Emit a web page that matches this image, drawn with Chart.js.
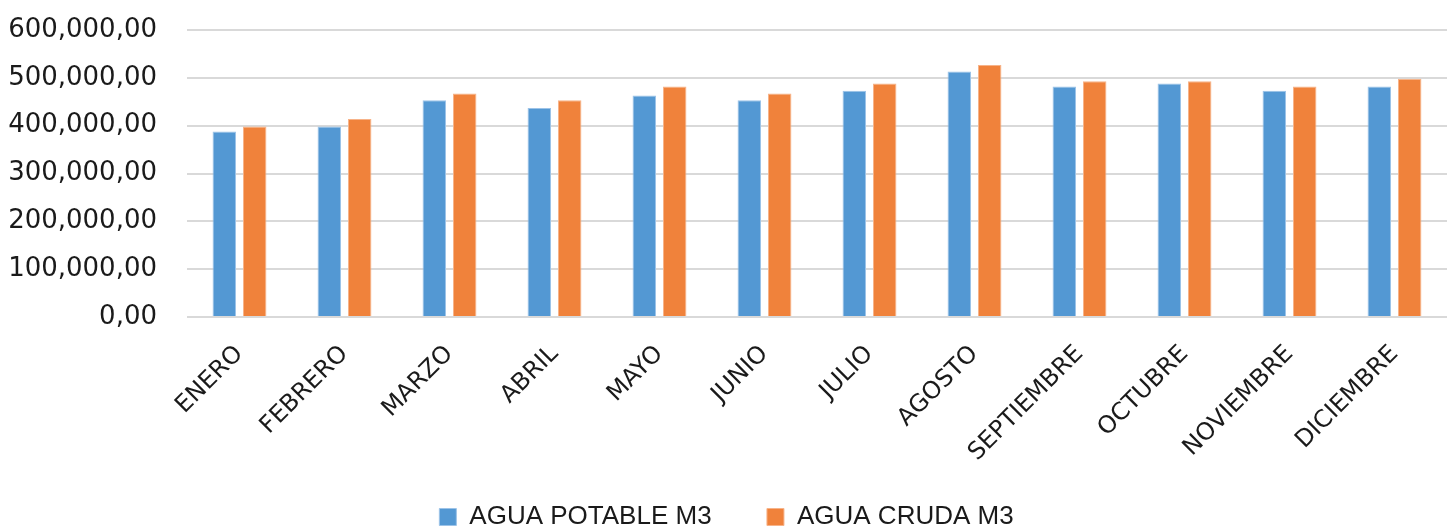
<!DOCTYPE html>
<html>
<head>
<meta charset="utf-8">
<script src="https://cdn.jsdelivr.net/npm/chart.js@4.4.0/dist/chart.umd.min.js"></script>
<style>
  html, body { margin: 0; padding: 0; background: #fff; }
  #wrap { width: 1454px; height: 532px; }
</style>
</head>
<body>
<div id="wrap"><canvas id="mychart" width="1454" height="532"></canvas></div>
<script>
// datos
const meses = ['ENERO', 'FEBRERO', 'MARZO', 'ABRIL', 'MAYO', 'JUNIO', 'JULIO', 'AGOSTO', 'SEPTIEMBRE', 'OCTUBRE', 'NOVIEMBRE', 'DICIEMBRE'];
const aguaPotable = [388000, 398000, 453000, 437000, 463000, 453000, 473000, 513000, 482000, 488000, 473000, 482000];
const aguaCruda = [398000, 414000, 467000, 453000, 482000, 467000, 488000, 527000, 493000, 493000, 482000, 498000];
const yMin = 0;
const yMax = 600000;
const yStep = 100000;

function formato(v) {
  // 600000 -> "600,000,00"
  let s = Number(v).toLocaleString('en-US', { minimumFractionDigits: 2, maximumFractionDigits: 2 });
  return s.replace('.', ',');
}

let ctx = document.getElementById('mychart');
let myChart = new Chart(ctx, {
  type: 'bar',
  data: {
    labels: meses,
    datasets: [{
      label: 'AGUA POTABLE M3',
      data: aguaPotable,
      backgroundColor: '#5398D3',
      borderColor: '#9cc3e8',
      borderWidth: 1,
    }, {
      label: 'AGUA CRUDA M3',
      data: aguaCruda,
      backgroundColor: '#F0823B',
      borderColor: '#f7b389',
      borderWidth: 1,
    }],
  },
  options: {
    responsive: false,
    animation: false,
    layout: { padding: { left: 6, right: 7, top: 30, bottom: -8 } },
    datasets: {
      bar: { categoryPercentage: 0.58, barPercentage: 0.77 },
    },
    plugins: {
      tooltip: { enabled: false },
      legend: {
        position: 'bottom',
        labels: {
          color: '#1a1a1a',
          font: { family: 'Liberation Sans', size: 26 },
          boxWidth: 17,
          boxHeight: 17,
          padding: 12,
          // espacio extra entre los dos elementos
          generateLabels: (chart) => {
            let items = Chart.defaults.plugins.legend.labels.generateLabels(chart);
            items[0].text = items[0].text + '      ';
            return items;
          },
        },
      },
    },
    scales: {
      x: {
        grid: { display: false },
        border: { display: false },
        ticks: {
          color: '#1a1a1a',
          font: { family: 'DejaVu Sans', size: 24 },
          maxRotation: 45,
          minRotation: 45,
          autoSkip: false,
          padding: 15,
        },
        afterFit: (scale) => { scale.height = 175; },
      },
      y: {
        min: yMin,
        max: yMax,
        ticks: {
          stepSize: yStep,
          color: '#1a1a1a',
          font: { family: 'DejaVu Sans', size: 26 },
          padding: 3,
          callback: (v) => formato(v),
        },
        grid: { color: '#d9d9d9', lineWidth: 2, drawTicks: true, tickLength: 27, tickColor: 'rgba(0,0,0,0)' },
        border: { display: false },
        afterFit: (scale) => { scale.width = 181; },
      },
    },
  },
});
</script>
</body>
</html>
